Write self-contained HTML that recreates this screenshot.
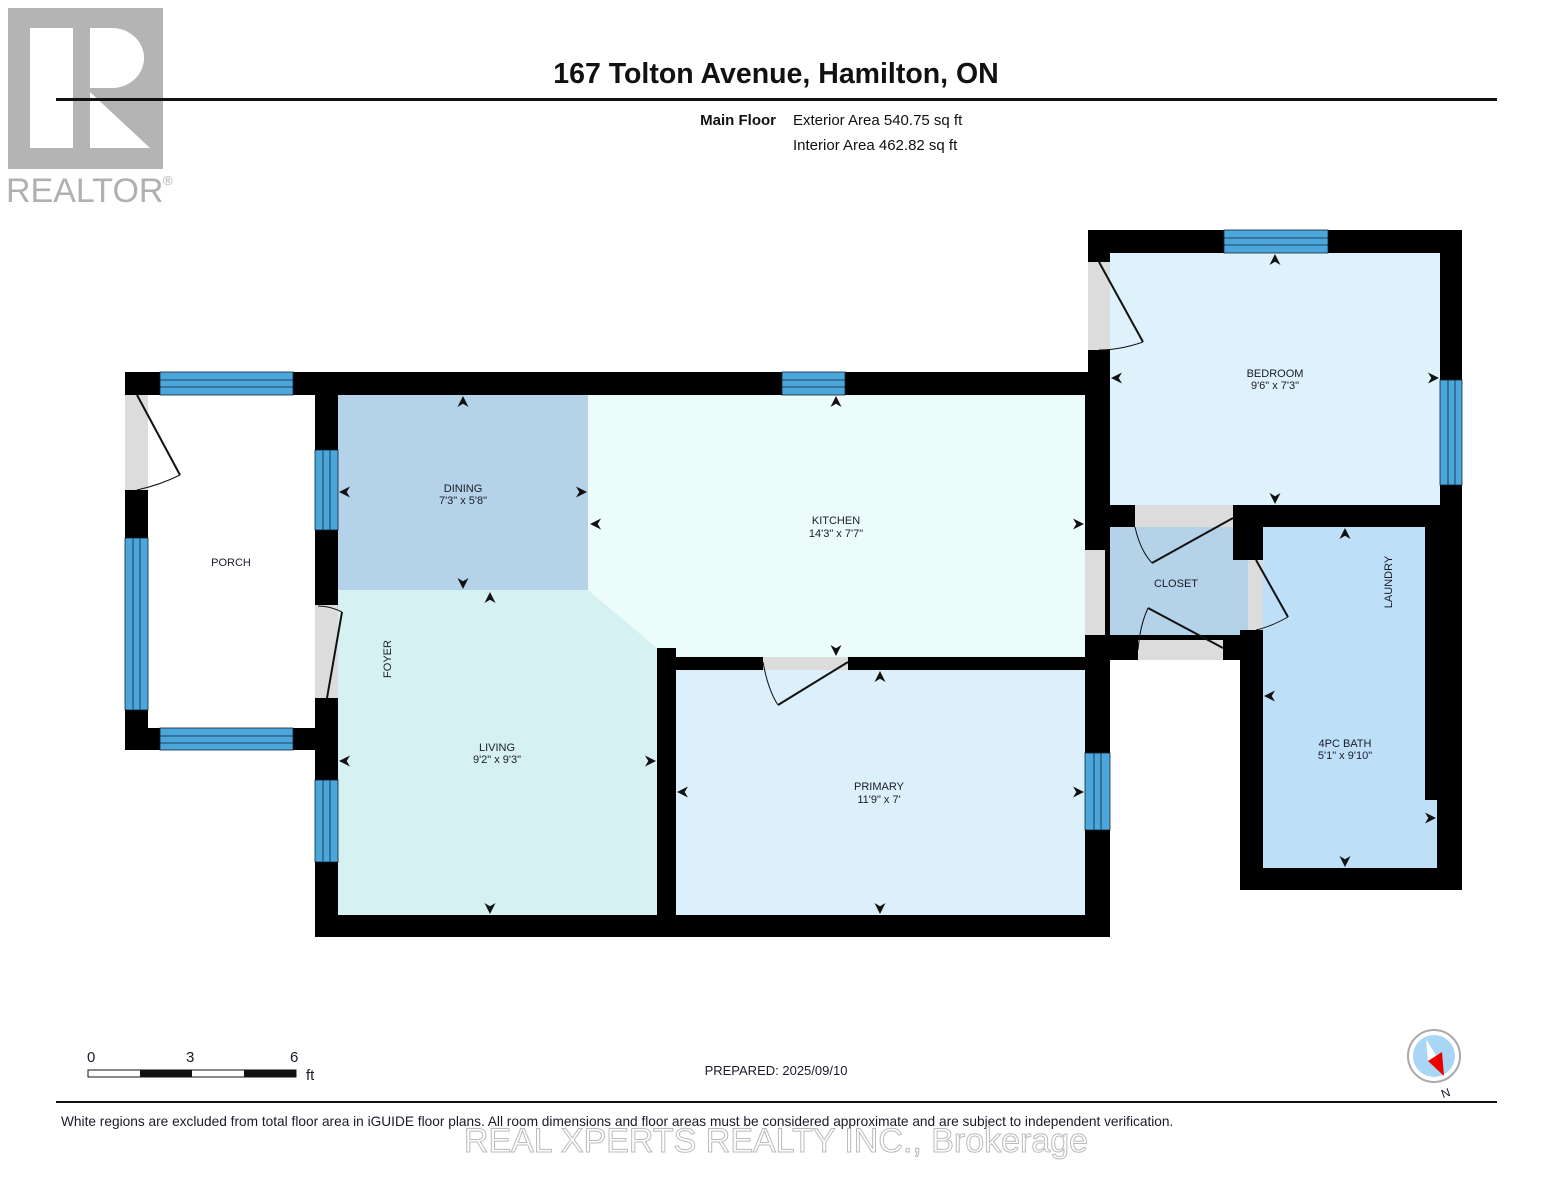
<!DOCTYPE html>
<html><head><meta charset="utf-8"><style>
html,body{margin:0;padding:0;background:#fff}
svg{display:block}
text{font-family:"Liberation Sans",Arial,sans-serif;fill:#1a1a2a}
.rl{font-size:11px;text-anchor:middle}
</style></head><body>
<svg width="1553" height="1200" viewBox="0 0 1553 1200" xmlns="http://www.w3.org/2000/svg">
<defs>
<marker id="a" viewBox="0 0 10 10" refX="10" refY="5" markerWidth="11" markerHeight="11" markerUnits="userSpaceOnUse" orient="auto"><path d="M0,0 L10,5 L0,10 L3,5z" fill="#111"/></marker>
</defs>
<!-- REALTOR logo -->
<rect x="8" y="8" width="155" height="161" fill="#b4b4b4"/>
<rect x="30" y="28" width="43" height="120" fill="#fff"/>
<path d="M90,28 H112 A32,30 0 0 1 112,88 H90 Z" fill="#fff"/>
<polygon points="90,92 150,148 90,148" fill="#fff"/>
<text x="6" y="202" font-size="34" style="fill:#b0b0b0">REALTOR</text>
<text x="163" y="185" font-size="13" style="fill:#b0b0b0">®</text>
<!-- Header -->
<text x="776" y="83" font-size="28.5" font-weight="bold" text-anchor="middle" style="fill:#111">167 Tolton Avenue, Hamilton, ON</text>
<rect x="56" y="98" width="1441" height="3" fill="#111"/>
<text x="776" y="125" font-size="15" font-weight="bold" text-anchor="end" style="fill:#111">Main Floor</text>
<text x="793" y="125" font-size="15" style="fill:#111">Exterior Area 540.75 sq ft</text>
<text x="793" y="150" font-size="15" style="fill:#111">Interior Area 462.82 sq ft</text>

<!-- Room fills -->
<rect x="148" y="395" width="167" height="333" fill="#fff"/>
<rect x="338" y="395" width="250" height="195" fill="#b4d3e8"/>
<polygon points="588,395 1085,395 1085,657 657,657 657,648 588,590" fill="#ecfcfb"/>
<polygon points="338,590 588,590 657,648 657,915 338,915" fill="#d6f1f1"/>
<rect x="676" y="670" width="409" height="245" fill="#dcf0fb"/>
<rect x="1110" y="253" width="330" height="252" fill="#def2fb"/>
<rect x="1105" y="527" width="143" height="113" fill="#b4d3e8"/>
<rect x="1263" y="527" width="174" height="341" fill="#bde0f8"/>

<!-- Walls -->
<g fill="#000">
<rect x="125" y="372" width="985" height="23"/>
<rect x="125" y="372" width="23" height="378"/>
<rect x="125" y="728" width="213" height="22"/>
<rect x="315" y="395" width="23" height="542"/>
<rect x="315" y="915" width="795" height="22"/>
<rect x="1085" y="372" width="25" height="565"/>
<rect x="657" y="648" width="19" height="267"/>
<rect x="657" y="657" width="428" height="13"/>
<rect x="1088" y="230" width="374" height="23"/>
<rect x="1088" y="230" width="22" height="145"/>
<rect x="1440" y="230" width="22" height="660"/>
<rect x="1437" y="800" width="25" height="90"/>
<rect x="1085" y="505" width="377" height="22"/>
<rect x="1085" y="635" width="163" height="25"/>
<rect x="1233" y="505" width="30" height="55"/>
<rect x="1240" y="630" width="23" height="260"/>
<rect x="1240" y="868" width="222" height="22"/>
<rect x="1425" y="527" width="15" height="273"/>
</g>
<!-- door openings (gray) -->
<g fill="#dcdcdc">
<rect x="125" y="395" width="23" height="95"/>
<rect x="315" y="605" width="23" height="93"/>
<rect x="763" y="657" width="85" height="13"/>
<rect x="1088" y="262" width="22" height="88"/>
<rect x="1135" y="505" width="98" height="22"/>
<rect x="1085" y="550" width="20" height="85"/>
<rect x="1138" y="640" width="85" height="20"/>
<rect x="1248" y="560" width="15" height="70"/>
</g>
<!-- windows -->
<g fill="#4ba6dc" stroke="#123" stroke-width="0.8">
<rect x="160" y="372" width="133" height="23"/>
<rect x="160" y="728" width="133" height="22"/>
<rect x="125" y="538" width="23" height="172"/>
<rect x="315" y="450" width="23" height="80"/>
<rect x="315" y="780" width="23" height="82"/>
<rect x="782" y="372" width="63" height="23"/>
<rect x="1085" y="753" width="25" height="77"/>
<rect x="1224" y="230" width="104" height="23"/>
<rect x="1440" y="380" width="22" height="105"/>
</g>
<g stroke="#123" stroke-width="0.8">
<line x1="160" y1="380" x2="293" y2="380"/><line x1="160" y1="387" x2="293" y2="387"/>
<line x1="160" y1="736" x2="293" y2="736"/><line x1="160" y1="743" x2="293" y2="743"/>
<line x1="133" y1="538" x2="133" y2="710"/><line x1="140" y1="538" x2="140" y2="710"/>
<line x1="323" y1="450" x2="323" y2="530"/><line x1="330" y1="450" x2="330" y2="530"/>
<line x1="323" y1="780" x2="323" y2="862"/><line x1="330" y1="780" x2="330" y2="862"/>
<line x1="782" y1="380" x2="845" y2="380"/><line x1="782" y1="387" x2="845" y2="387"/>
<line x1="1094" y1="753" x2="1094" y2="830"/><line x1="1101" y1="753" x2="1101" y2="830"/>
<line x1="1224" y1="238" x2="1328" y2="238"/><line x1="1224" y1="245" x2="1328" y2="245"/>
<line x1="1448" y1="380" x2="1448" y2="485"/><line x1="1455" y1="380" x2="1455" y2="485"/>
</g>
<!-- door swings -->
<g stroke="#111" stroke-width="2" fill="none">
<line x1="137" y1="395" x2="180" y2="475"/><path d="M180,475 Q160,485 137,490" stroke-width="1"/>
<line x1="327" y1="698" x2="342" y2="612"/><path d="M318,606 Q330,606 342,612" stroke-width="1"/>
<line x1="848" y1="662" x2="778" y2="705"/><path d="M763,662 Q768,690 778,705" stroke-width="1"/>
<line x1="1099" y1="262" x2="1143" y2="342"/><path d="M1143,342 Q1120,350 1099,350" stroke-width="1"/>
<line x1="1233" y1="518" x2="1152" y2="563"/><path d="M1135,527 Q1140,550 1152,563" stroke-width="1"/>
<line x1="1223" y1="648" x2="1148" y2="608"/><path d="M1138,650 Q1140,625 1148,608" stroke-width="1"/>
<line x1="1256" y1="560" x2="1288" y2="617"/><path d="M1288,617 Q1270,627 1256,630" stroke-width="1"/>
</g>
<!-- dimension arrows -->
<g stroke="none" fill="none">
<path d="M463,420 L463,396" marker-end="url(#a)"/>
<path d="M360,492 L339,492" marker-end="url(#a)"/>
<path d="M565,492 L587,492" marker-end="url(#a)"/>
<path d="M463,566 L463,589" marker-end="url(#a)"/>
<path d="M490,614 L490,592" marker-end="url(#a)"/>
<path d="M612,524 L590,524" marker-end="url(#a)"/>
<path d="M836,420 L836,396" marker-end="url(#a)"/>
<path d="M1062,524 L1084,524" marker-end="url(#a)"/>
<path d="M836,632 L836,656" marker-end="url(#a)"/>
<path d="M360,761 L339,761" marker-end="url(#a)"/>
<path d="M633,761 L656,761" marker-end="url(#a)"/>
<path d="M490,890 L490,914" marker-end="url(#a)"/>
<path d="M880,694 L880,671" marker-end="url(#a)"/>
<path d="M698,792 L677,792" marker-end="url(#a)"/>
<path d="M1062,792 L1084,792" marker-end="url(#a)"/>
<path d="M880,890 L880,914" marker-end="url(#a)"/>
<path d="M1275,278 L1275,254" marker-end="url(#a)"/>
<path d="M1132,378 L1111,378" marker-end="url(#a)"/>
<path d="M1418,378 L1439,378" marker-end="url(#a)"/>
<path d="M1275,480 L1275,504" marker-end="url(#a)"/>
<path d="M1345,550 L1345,528" marker-end="url(#a)"/>
<path d="M1285,696 L1264,696" marker-end="url(#a)"/>
<path d="M1414,818 L1436,818" marker-end="url(#a)"/>
<path d="M1345,844 L1345,867" marker-end="url(#a)"/>
</g>
<!-- room labels -->
<text class="rl" x="231" y="566">PORCH</text>
<text class="rl" x="463" y="492">DINING</text><text class="rl" x="463" y="504">7'3" x 5'8"</text>
<text class="rl" x="836" y="524">KITCHEN</text><text class="rl" x="836" y="537">14'3" x 7'7"</text>
<text class="rl" x="497" y="751">LIVING</text><text class="rl" x="497" y="763">9'2" x 9'3"</text>
<text class="rl" x="879" y="790">PRIMARY</text><text class="rl" x="879" y="803">11'9" x 7'</text>
<text class="rl" x="1275" y="377">BEDROOM</text><text class="rl" x="1275" y="389">9'6" x 7'3"</text>
<text class="rl" x="1176" y="587">CLOSET</text>
<text class="rl" x="1345" y="747">4PC BATH</text><text class="rl" x="1345" y="759">5'1" x 9'10"</text>
<text class="rl" transform="translate(1392,582) rotate(-90)">LAUNDRY</text>
<text class="rl" transform="translate(391,659) rotate(-90)">FOYER</text>

<!-- scale -->
<text x="87" y="1062" font-size="15">0</text>
<text x="186" y="1062" font-size="15">3</text>
<text x="290" y="1062" font-size="15">6</text>
<text x="306" y="1080" font-size="15">ft</text>
<rect x="88" y="1070" width="208" height="7" fill="#fff" stroke="#111" stroke-width="1"/>
<rect x="140" y="1070" width="52" height="7" fill="#111"/>
<rect x="244" y="1070" width="52" height="7" fill="#111"/>
<text x="776" y="1075" font-size="13" text-anchor="middle">PREPARED: 2025/09/10</text>
<!-- compass -->
<circle cx="1434" cy="1056" r="26" fill="#fff" stroke="#aaa" stroke-width="2"/>
<circle cx="1434" cy="1056" r="21" fill="#a8d6f4"/>
<polygon points="1426,1039 1440,1062 1428,1061" fill="#fff"/>
<polygon points="1428,1061 1442,1052 1444,1076" fill="#e00"/>
<text x="1441" y="1097" font-size="12" transform="rotate(-20 1446 1092)">N</text>
<rect x="56" y="1101" width="1441" height="2" fill="#111"/>
<text x="61" y="1126" font-size="13.7">White regions are excluded from total floor area in iGUIDE floor plans. All room dimensions and floor areas must be considered approximate and are subject to independent verification.</text>
<text x="776" y="1152" font-size="34" text-anchor="middle" style="fill:#fff;stroke:#bbb;stroke-width:1">REAL XPERTS REALTY INC., Brokerage</text>
</svg>
</body></html>
